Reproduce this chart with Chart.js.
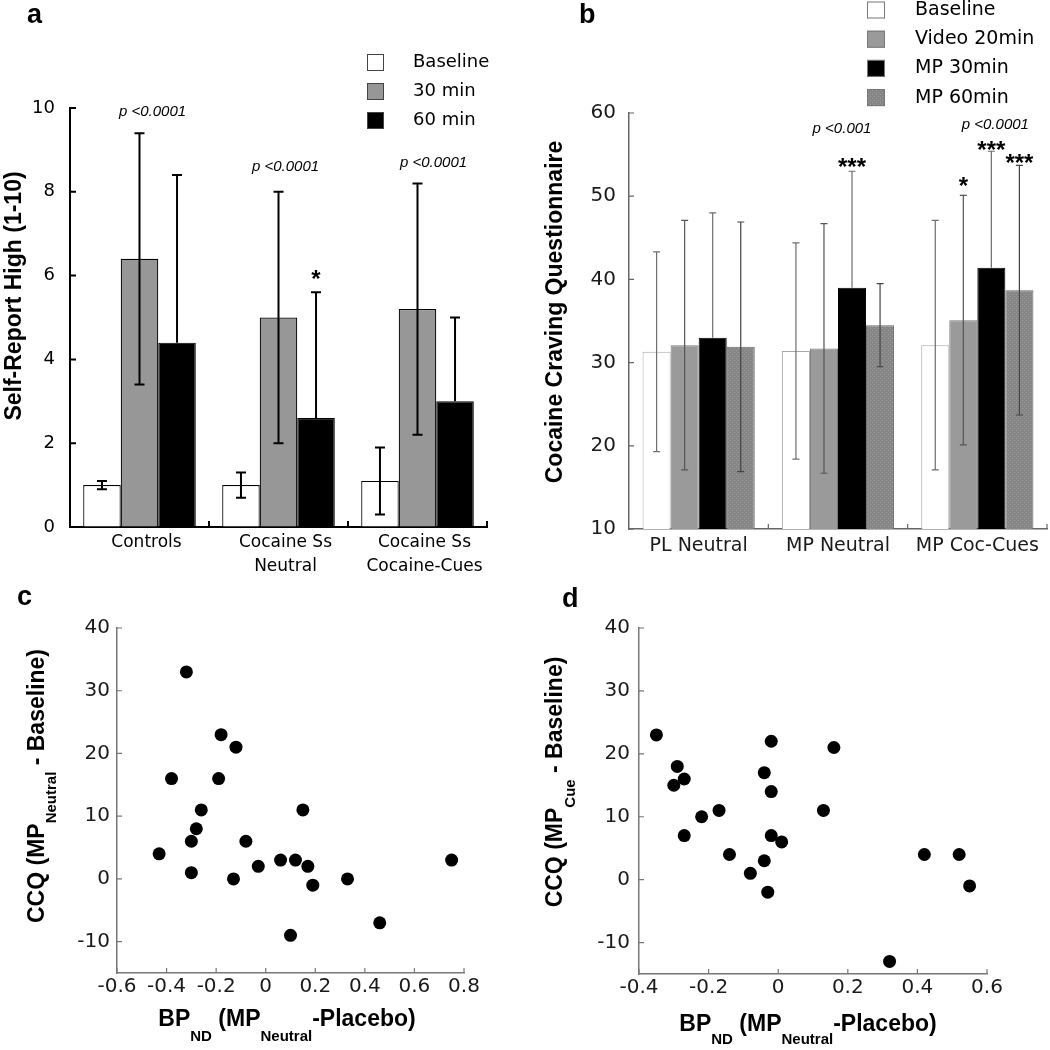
<!DOCTYPE html>
<html>
<head>
<meta charset="utf-8">
<script src="https://cdn.jsdelivr.net/npm/chart.js@4.4.1/dist/chart.umd.min.js"></script>
<style>
  body { margin: 0; background: #fff; }
  canvas { position: absolute; }
</style>
</head>
<body>
<canvas id="highChart" width="525" height="580" style="left:0;top:0"></canvas>
<canvas id="ccqChart" width="525" height="580" style="left:525px;top:0"></canvas>
<canvas id="neutralChart" width="525" height="470" style="left:0;top:580px"></canvas>
<canvas id="cueChart" width="525" height="470" style="left:525px;top:580px"></canvas>
<script>
// panel a - self-report high
const highGroups = [['Controls'], ['Cocaine Ss', 'Neutral'], ['Cocaine Ss', 'Cocaine-Cues']]
const highSeries = ['Baseline', '30 min', '60 min']
const highBaseline = [1.0, 1.0, 1.1]
const highBaselineErr = [0.1, 0.3, 0.8]
const high30 = [6.4, 5.0, 5.2]
const high30Err = [3.0, 3.0, 3.0]
const high60 = [4.4, 2.6, 3.0]
const high60Err = [4.0, 3.0, 2.0]
const highTicks = [0, 2, 4, 6, 8, 10]

// panel b - cocaine craving questionnaire
const ccqGroups = ['PL Neutral', 'MP Neutral', 'MP Coc-Cues']
const ccqSeries = ['Baseline', 'Video 20min', 'MP 30min', 'MP 60min']
const ccqBaseline = [31.3, 31.4, 32.1]
const ccqBaselineErr = [12.0, 13.0, 15.0]
const ccqVideo = [32.1, 31.7, 35.1]
const ccqVideoErr = [15.0, 15.0, 15.0]
const ccqMp30 = [33.0, 39.0, 41.4]
const ccqMp30Err = [15.0, 14.0, 14.0]
const ccqMp60 = [31.9, 34.5, 38.7]
const ccqMp60Err = [15.0, 5.0, 15.0]
const ccqTicks = [10, 20, 30, 40, 50, 60]

// panel c - BPnd vs CCQ change, neutral video
const neutralBp = [-0.32, -0.38, -0.18, -0.12, -0.19, -0.26, -0.28, -0.30, -0.43, -0.30, -0.13,
  -0.08, -0.03, 0.06, 0.12, 0.15, 0.17, 0.19, 0.33, 0.46, 0.10, 0.75]
const neutralCcq = [33, 16, 23, 21, 16, 11, 8, 6, 4, 1, 0, 6, 2, 3, 3, 11, 2, -1, 0, -7, -9, 3]
const neutralXTicks = [-0.6, -0.4, -0.2, 0, 0.2, 0.4, 0.6, 0.8]

// panel d - BPnd vs CCQ change, cocaine cues
const cueBp = [-0.35, -0.29, -0.30, -0.27, -0.27, -0.22, -0.17, -0.14, -0.08, -0.04, -0.04,
  -0.02, -0.02, -0.02, 0.01, -0.03, 0.13, 0.16, 0.32, 0.42, 0.52, 0.55]
const cueCcq = [23, 18, 15, 16, 7, 10, 11, 4, 1, 3, 17, 22, 14, 7, 6, -2, 11, 21, -13, 4, 4, -1]
const cueXTicks = [-0.4, -0.2, 0, 0.2, 0.4, 0.6]
const scatterYTicks = [-10, 0, 10, 20, 30, 40]

const SANS = '"DejaVu Sans", sans-serif'
const HELV = '"Liberation Sans", Arial, sans-serif'
const P_FONT = 'italic 15px ' + HELV
const STAR_FONT = 'bold 24px ' + HELV

function fixedSize(size) {
  return (scale) => {
    if (scale.isHorizontal()) scale.height = size
    else scale.width = size
  }
}

function dotted(base, dot) {
  const c = document.createElement('canvas')
  c.width = 4
  c.height = 4
  const g = c.getContext('2d')
  g.fillStyle = base
  g.fillRect(0, 0, 4, 4)
  g.fillStyle = dot
  g.fillRect(1, 0, 1, 1)
  g.fillRect(3, 2, 1, 1)
  return g.createPattern(c, 'repeat')
}

function drawParts(ctx, parts, cx, cy, rotate, t) {
  ctx.save()
  ctx.translate(cx, cy)
  if (rotate) ctx.rotate(-Math.PI / 2)
  ctx.fillStyle = '#000'
  ctx.textAlign = 'left'
  ctx.textBaseline = 'middle'
  let w = 0
  parts.forEach(p => {
    ctx.font = p.sub ? t.subFont : t.font
    w += ctx.measureText(p.text).width
  })
  let x = -w / 2
  parts.forEach(p => {
    ctx.font = p.sub ? t.subFont : t.font
    ctx.fillText(p.text, x, p.sub ? t.shift : 0)
    x += ctx.measureText(p.text).width
  })
  ctx.restore()
}

const errorBarPlugin = {
  id: 'errorBars',
  afterDatasetsDraw(chart) {
    const ctx = chart.ctx
    const ys = chart.scales.y
    chart.data.datasets.forEach((ds, di) => {
      if (!ds.errors) return
      const meta = chart.getDatasetMeta(di)
      ctx.save()
      ctx.strokeStyle = ds.errorColor
      ctx.lineWidth = ds.errorWidth
      meta.data.forEach((bar, i) => {
        const top = ys.getPixelForValue(ds.data[i] + ds.errors[i])
        const bottom = ds.errorUpOnly ? ys.getPixelForValue(ds.data[i]) : ys.getPixelForValue(ds.data[i] - ds.errors[i])
        const cap = ds.errorCap
        ctx.beginPath()
        ctx.moveTo(bar.x, top)
        ctx.lineTo(bar.x, bottom)
        ctx.moveTo(bar.x - cap, top)
        ctx.lineTo(bar.x + cap, top)
        if (!ds.errorUpOnly) {
          ctx.moveTo(bar.x - cap, bottom)
          ctx.lineTo(bar.x + cap, bottom)
        }
        ctx.stroke()
      })
      ctx.restore()
    })
  }
}

const figurePlugin = {
  id: 'figure',
  afterDraw(chart, args, o) {
    const ctx = chart.ctx
    const area = chart.chartArea
    const xs = chart.scales.x
    const ys = chart.scales.y
    ctx.save()

    // tick marks point into the plot
    ctx.strokeStyle = o.tickColor
    ctx.lineWidth = o.tickWidth
    ctx.beginPath()
    ys.ticks.forEach(t => {
      const p = ys.getPixelForValue(t.value)
      ctx.moveTo(area.left, p)
      ctx.lineTo(area.left + o.tickLen, p)
    })
    if (xs.type === 'category') {
      const half = (xs.getPixelForValue(1) - xs.getPixelForValue(0)) / 2
      xs.ticks.forEach((t, i) => {
        const p = xs.getPixelForValue(i) + half
        ctx.moveTo(p, area.bottom)
        ctx.lineTo(p, area.bottom - o.tickLen)
      })
    } else {
      xs.ticks.forEach(t => {
        const p = xs.getPixelForValue(t.value)
        ctx.moveTo(p, area.bottom)
        ctx.lineTo(p, area.bottom - o.tickLen)
      })
    }
    ctx.stroke()

    // p values and stars
    ctx.fillStyle = '#000'
    ctx.textAlign = 'center'
    ctx.textBaseline = 'middle'
    ;(o.notes || []).forEach(n => {
      ctx.font = n.font
      const x = n.ds !== undefined
        ? chart.getDatasetMeta(n.ds).data[n.cat].x
        : xs.getPixelForValue(n.cat) + n.dx
      ctx.fillText(n.text, x, ys.getPixelForValue(n.value) + (n.lift || 0))
    })

    // legend with the box far from its text
    if (o.legend) {
      const L = o.legend
      chart.data.datasets.forEach((ds, i) => {
        const cy = L.y + i * L.step
        ctx.fillStyle = ds.backgroundColor
        ctx.fillRect(L.x, cy - L.h / 2, L.w, L.h)
        ctx.strokeStyle = L.border || ds.borderColor
        ctx.lineWidth = 1
        ctx.strokeRect(L.x + 0.5, cy - L.h / 2 + 0.5, L.w - 1, L.h - 1)
        ctx.fillStyle = '#000'
        ctx.font = L.font
        ctx.textAlign = 'left'
        ctx.textBaseline = 'middle'
        ctx.fillText(ds.label, L.textX, cy)
      })
    }

    // axis titles (with subscripts) and panel letter
    if (o.yTitle) drawParts(ctx, o.yTitle.parts, o.yTitle.x, o.yTitle.y, true, o.yTitle)
    if (o.xTitle) drawParts(ctx, o.xTitle.parts, o.xTitle.x, o.xTitle.y, false, o.xTitle)
    ctx.font = 'bold 27px ' + HELV
    ctx.fillStyle = '#000'
    ctx.textAlign = 'left'
    ctx.textBaseline = 'alphabetic'
    ctx.fillText(o.letter.text, o.letter.x, o.letter.y)
    ctx.restore()
  }
}

const baseOptions = {
  responsive: false,
  animation: false,
  events: [],
  devicePixelRatio: 1
}

// ---------- panel a ----------
const highNotes = [
  { text: 'p <0.0001', font: P_FONT, cat: 0, dx: 13, value: 9.9 },
  { text: 'p <0.0001', font: P_FONT, cat: 1, dx: 7, value: 8.6 },
  { text: 'p <0.0001', font: P_FONT, cat: 2, dx: 16, value: 8.7 },
  { text: '*', font: STAR_FONT, cat: 1, ds: 2, value: 6.0, lift: 5 }
]

new Chart(document.getElementById('highChart'), {
  type: 'bar',
  data: {
    labels: highGroups,
    datasets: [
      { label: highSeries[0], data: highBaseline, errors: highBaselineErr, backgroundColor: '#ffffff', borderColor: '#000', borderWidth: 1.2,
        errorColor: '#000', errorWidth: 2, errorCap: 5 },
      { label: highSeries[1], data: high30, errors: high30Err, backgroundColor: '#979797', borderColor: '#000', borderWidth: 1.2,
        errorColor: '#000', errorWidth: 2, errorCap: 5 },
      { label: highSeries[2], data: high60, errors: high60Err, errorUpOnly: true, backgroundColor: '#000', borderColor: '#000', borderWidth: 1.2,
        errorColor: '#000', errorWidth: 2, errorCap: 5 }
    ]
  },
  options: {
    ...baseOptions,
    layout: { padding: { left: 0, top: 108, right: 38, bottom: 0 } },
    datasets: { bar: { categoryPercentage: 0.81, barPercentage: 1 } },
    scales: {
      x: {
        afterFit: fixedSize(53),
        grid: { display: true, drawOnChartArea: false, drawTicks: false },
        border: { color: '#000', width: 2 },
        ticks: { color: '#000', font: { family: SANS, size: 17, lineHeight: 1.4 }, padding: 4, labelOffset: 7, maxRotation: 0, autoSkip: false }
      },
      y: {
        min: 0,
        max: 10,
        afterFit: fixedSize(70),
        afterBuildTicks: (s) => { s.ticks = highTicks.map(v => ({ value: v })) },
        grid: { display: true, drawOnChartArea: false, drawTicks: false },
        border: { color: '#000', width: 2 },
        ticks: { color: '#000', font: { family: SANS, size: 18 }, padding: 15 }
      }
    },
    plugins: {
      legend: { display: false },
      tooltip: { enabled: false },
      figure: {
        tickColor: '#000', tickWidth: 2, tickLen: 6,
        notes: highNotes,
        legend: { x: 367, y: 62.5, step: 29, w: 17, h: 17, textX: 413, font: '18px ' + SANS, border: '#444' },
        yTitle: { x: 15, y: 296, font: 'bold 23px ' + HELV, parts: [{ text: 'Self-Report High (1-10)' }] },
        letter: { text: 'a', x: 27, y: 23 }
      }
    }
  },
  plugins: [errorBarPlugin, figurePlugin]
})

// ---------- panel b ----------
const ccqNotes = [
  { text: 'p <0.001', font: P_FONT, cat: 1, dx: 4, value: 58.1 },
  { text: 'p <0.0001', font: P_FONT, cat: 2, dx: 18, value: 58.6 },
  { text: '***', font: STAR_FONT, cat: 1, ds: 2, value: 54.0, lift: 5 },
  { text: '*', font: STAR_FONT, cat: 2, ds: 1, value: 51.7, lift: 5 },
  { text: '***', font: STAR_FONT, cat: 2, ds: 2, value: 56.0, lift: 5 },
  { text: '***', font: STAR_FONT, cat: 2, ds: 3, value: 54.4, lift: 5 }
]

const ccqCtx = document.getElementById('ccqChart')
const mp60Fill = dotted('#868686', '#9e9e9e')

new Chart(ccqCtx, {
  type: 'bar',
  data: {
    labels: ccqGroups,
    datasets: [
      { label: ccqSeries[0], data: ccqBaseline, errors: ccqBaselineErr, backgroundColor: '#ffffff', borderColor: '#a8a8a8', borderWidth: 1,
        errorColor: '#6e6e6e', errorWidth: 1.2, errorCap: 3.5 },
      { label: ccqSeries[1], data: ccqVideo, errors: ccqVideoErr, backgroundColor: '#9a9a9a', borderColor: '#7a7a7a', borderWidth: 1,
        errorColor: '#555', errorWidth: 1.2, errorCap: 3.5 },
      { label: ccqSeries[2], data: ccqMp30, errors: ccqMp30Err, errorUpOnly: true, backgroundColor: '#000', borderColor: '#000', borderWidth: 1,
        errorColor: '#6e6e6e', errorWidth: 1.2, errorCap: 3.5 },
      { label: ccqSeries[3], data: ccqMp60, errors: ccqMp60Err, backgroundColor: mp60Fill, borderColor: '#6a6a6a', borderWidth: 1,
        errorColor: '#444', errorWidth: 1.2, errorCap: 3.5 }
    ]
  },
  options: {
    ...baseOptions,
    layout: { padding: { left: 0, top: 113, right: 3, bottom: 0 } },
    datasets: { bar: { categoryPercentage: 0.805, barPercentage: 1 } },
    scales: {
      x: {
        afterFit: fixedSize(51),
        grid: { display: true, drawOnChartArea: false, drawTicks: false },
        border: { color: '#666', width: 1.5 },
        ticks: { color: '#1a1a1a', font: { family: SANS, size: 19 }, padding: 6, maxRotation: 0, autoSkip: false }
      },
      y: {
        min: 10,
        max: 60,
        afterFit: fixedSize(104),
        afterBuildTicks: (s) => { s.ticks = ccqTicks.map(v => ({ value: v })) },
        grid: { display: true, drawOnChartArea: false, drawTicks: false },
        border: { color: '#666', width: 1.5 },
        ticks: { color: '#1a1a1a', font: { family: SANS, size: 20 }, padding: 13 }
      }
    },
    plugins: {
      legend: { display: false },
      tooltip: { enabled: false },
      figure: {
        tickColor: '#666', tickWidth: 1.2, tickLen: 5,
        notes: ccqNotes,
        legend: { x: 342, y: 10, step: 29.2, w: 18, h: 17, textX: 390, font: '19px ' + SANS, border: '#777' },
        yTitle: { x: 31, y: 312, font: 'bold 23px ' + HELV, parts: [{ text: 'Cocaine Craving Questionnaire' }] },
        letter: { text: 'b', x: 54, y: 23 }
      }
    }
  },
  plugins: [errorBarPlugin, figurePlugin]
})

// ---------- panels c and d ----------
function scatterChart(id, xs, ys, xTicks, xMin, xMax, pad, yWidth, xHeight, yPad, extra) {
  return new Chart(document.getElementById(id), {
    type: 'scatter',
    data: {
      datasets: [{
        data: xs.map((x, i) => ({ x: x, y: ys[i] })),
        backgroundColor: '#000',
        borderWidth: 0,
        pointRadius: 6.5
      }]
    },
    options: {
      ...baseOptions,
      layout: { padding: pad },
      scales: {
        x: {
          type: 'linear',
          min: xMin,
          max: xMax,
          afterFit: fixedSize(xHeight),
          afterBuildTicks: (s) => { s.ticks = xTicks.map(v => ({ value: v })) },
          grid: { display: true, drawOnChartArea: false, drawTicks: false },
          border: { color: '#777', width: 1.5 },
          ticks: { color: '#1a1a1a', font: { family: SANS, size: 20 }, padding: 2, maxRotation: 0, autoSkip: false,
            callback: v => (v === 0 ? '0' : v.toFixed(1)) }
        },
        y: {
          min: -15,
          max: 40,
          afterFit: fixedSize(yWidth),
          afterBuildTicks: (s) => { s.ticks = scatterYTicks.map(v => ({ value: v })) },
          grid: { display: true, drawOnChartArea: false, drawTicks: false },
          border: { color: '#777', width: 1.5 },
          ticks: { color: '#1a1a1a', font: { family: SANS, size: 20 }, padding: yPad }
        }
      },
      plugins: {
        legend: { display: false },
        tooltip: { enabled: false },
        figure: Object.assign({ tickColor: '#777', tickWidth: 1.2, tickLen: 5 }, extra)
      }
    },
    plugins: [figurePlugin]
  })
}

const titleStyle = { font: 'bold 23px ' + HELV, subFont: 'bold 15px ' + HELV }

scatterChart('neutralChart', neutralBp, neutralCcq, neutralXTicks, -0.6, 0.8,
  { left: 0, top: 48, right: 61, bottom: 0 }, 117, 77, 7, {
    yTitle: { ...titleStyle, x: 38, y: 206, shift: 14,
      parts: [{ text: 'CCQ (MP' }, { text: 'Neutral', sub: true }, { text: ' - Baseline)' }] },
    xTitle: { ...titleStyle, x: 287, y: 440, shift: 17,
      parts: [{ text: 'BP' }, { text: 'ND', sub: true }, { text: ' (MP' }, { text: 'Neutral', sub: true }, { text: '-Placebo)' }] },
    letter: { text: 'c', x: 17, y: 25 }
  })

scatterChart('cueChart', cueBp, cueCcq, cueXTicks, -0.4, 0.6,
  { left: 0, top: 48, right: 63, bottom: 0 }, 114, 76, 9, {
    yTitle: { ...titleStyle, x: 31, y: 202, shift: 15,
      parts: [{ text: 'CCQ (MP' }, { text: 'Cue', sub: true }, { text: ' - Baseline)' }] },
    xTitle: { ...titleStyle, x: 283, y: 445, shift: 15,
      parts: [{ text: 'BP' }, { text: 'ND', sub: true }, { text: ' (MP' }, { text: 'Neutral', sub: true }, { text: '-Placebo)' }] },
    letter: { text: 'd', x: 37, y: 27 }
  })
</script>
</body>
</html>
